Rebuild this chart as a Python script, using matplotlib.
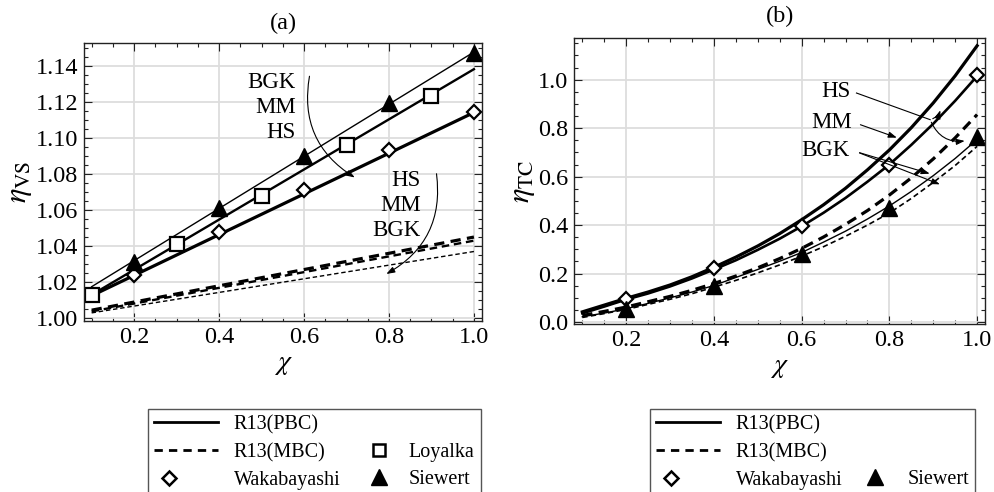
import matplotlib
matplotlib.use('Agg')
import matplotlib.pyplot as plt
from matplotlib.lines import Line2D
from matplotlib.ticker import MultipleLocator, FormatStrFormatter
from matplotlib.legend_handler import HandlerLine2D

plt.rcParams['font.family'] = ['Liberation Serif', 'DejaVu Serif']
plt.rcParams['mathtext.fontset'] = 'stix'

# ---- panel (a): viscous slip, straight lines (end points)
chi_line = [0.1, 1.0]
vs_pbc_thin = [1.0175, 1.1475]
vs_pbc_mid = [1.0130, 1.1380]
vs_pbc_thick = [1.0125, 1.1140]
vs_mbc_thick = [1.0045, 1.0450]
vs_mbc_mid = [1.0038, 1.0430]
vs_mbc_thin = [1.0030, 1.0370]

chi_loyalka = [0.1, 0.3, 0.5, 0.7, 0.9]
vs_loyalka = [1.013, 1.041, 1.068, 1.096, 1.123]
chi_ref = [0.2, 0.4, 0.6, 0.8, 1.0]
vs_waka = [1.024, 1.048, 1.071, 1.093, 1.114]
vs_siewert = [1.031, 1.061, 1.090, 1.119, 1.147]

# ---- panel (b): thermal creep
chi_curve = [0.10, 0.15, 0.20, 0.25, 0.30, 0.35, 0.40, 0.45, 0.50, 0.55,
             0.60, 0.65, 0.70, 0.75, 0.80, 0.85, 0.90, 0.95, 1.00]
tc_pbc_top = [0.042, 0.070, 0.098, 0.124, 0.153, 0.187, 0.226, 0.268, 0.314, 0.365,
              0.422, 0.484, 0.552, 0.628, 0.710, 0.802, 0.904, 1.016, 1.140]
tc_pbc_mid = [0.036, 0.064, 0.093, 0.118, 0.147, 0.180, 0.217, 0.255, 0.298, 0.344,
              0.395, 0.451, 0.512, 0.579, 0.650, 0.731, 0.818, 0.913, 1.015]
tc_pbc_thin = [0.022, 0.037, 0.055, 0.077, 0.100, 0.124, 0.151, 0.184, 0.217, 0.251,
               0.287, 0.330, 0.375, 0.425, 0.479, 0.539, 0.604, 0.675, 0.753]
tc_mbc_thick = [0.027, 0.044, 0.062, 0.084, 0.106, 0.131, 0.159, 0.190, 0.224, 0.262,
                0.304, 0.351, 0.403, 0.460, 0.524, 0.595, 0.673, 0.760, 0.856]
tc_mbc_thin = [0.019, 0.035, 0.052, 0.073, 0.094, 0.117, 0.144, 0.172, 0.203, 0.236,
               0.272, 0.311, 0.354, 0.400, 0.450, 0.510, 0.576, 0.646, 0.725]
tc_waka = [0.095, 0.222, 0.395, 0.650, 1.018]
tc_siewert = [0.054, 0.148, 0.280, 0.469, 0.765]

DASH = (0, (3.2, 2.0))
FS = 17.5
FS_TXT = 16.5

fig = plt.figure(figsize=(9.95, 4.92), dpi=100)
axa = fig.add_axes([84/995, 1-321/492, 398/995, 278/492])
axb = fig.add_axes([574/995, 1-324/492, 411/995, 286/492])


def style_axes(ax, xminor, ymaj, yminor):
    ax.xaxis.set_major_locator(MultipleLocator(0.2))
    ax.xaxis.set_minor_locator(MultipleLocator(xminor))
    ax.yaxis.set_major_locator(MultipleLocator(ymaj))
    ax.yaxis.set_minor_locator(MultipleLocator(yminor))
    ax.tick_params(which='both', direction='in', top=True, right=True,
                   labelsize=FS, width=0.8, color='#222222')
    ax.tick_params(which='major', length=6, pad=4)
    ax.tick_params(which='minor', length=3)
    ax.grid(True, which='major', color='#dddddd', lw=1.3)
    ax.set_axisbelow(True)
    for s in ax.spines.values():
        s.set_linewidth(1.0)
        s.set_color('#222222')


# panel (a)
axa.plot(chi_line, vs_pbc_thin, color='k', lw=1.0)
axa.plot(chi_line, vs_pbc_mid, color='k', lw=1.7)
axa.plot(chi_line, vs_pbc_thick, color='k', lw=2.3)
axa.plot(chi_line, vs_mbc_thick, color='k', lw=2.3, linestyle=DASH)
axa.plot(chi_line, vs_mbc_mid, color='k', lw=1.7, linestyle=DASH)
axa.plot(chi_line, vs_mbc_thin, color='k', lw=1.0, linestyle=DASH)
axa.plot(chi_loyalka, vs_loyalka, ls='none', marker='s', ms=10, mfc='white', mec='k', mew=1.6)
axa.plot(chi_ref, vs_waka, ls='none', marker='D', ms=7.5, mfc='white', mec='k', mew=1.6)
axa.plot(chi_ref, vs_siewert, ls='none', marker='^', ms=12, color='k')
axa.set_xlim(0.082, 1.019)
axa.set_ylim(0.9985, 1.1525)
style_axes(axa, 0.05, 0.02, 0.005)
axa.set_xticks([0.2, 0.4, 0.6, 0.8, 1.0])
axa.set_yticks([1.00, 1.02, 1.04, 1.06, 1.08, 1.10, 1.12, 1.14])
axa.yaxis.set_major_formatter(FormatStrFormatter('%.2f'))
axa.set_xlabel(r'$\chi$', fontsize=20, labelpad=3)
axa.set_ylabel(r'$\eta_{\mathrm{VS}}$', fontsize=22, labelpad=1)

axa.text(0.581, 1.1167, 'BGK\nMM\nHS', ha='right', va='center',
         multialignment='right', fontsize=FS_TXT, linespacing=1.25)
axa.annotate('', xy=(0.725, 1.0772), xytext=(0.614, 1.1356),
             arrowprops=dict(arrowstyle='-|>,head_length=0.5,head_width=0.18',
                             color='k', lw=0.8, connectionstyle='arc3,rad=0.35'))
axa.text(0.875, 1.0627, 'HS\nMM\nBGK', ha='right', va='center',
         multialignment='right', fontsize=FS_TXT, linespacing=1.25)
axa.annotate('', xy=(0.788, 1.0238), xytext=(0.911, 1.0816),
             arrowprops=dict(arrowstyle='-|>,head_length=0.5,head_width=0.18',
                             color='k', lw=0.8, connectionstyle='arc3,rad=-0.35'))

# panel (b)
axb.plot(chi_curve, tc_pbc_top, color='k', lw=2.3)
axb.plot(chi_curve, tc_pbc_mid, color='k', lw=1.9)
axb.plot(chi_curve, tc_pbc_thin, color='k', lw=1.0)
axb.plot(chi_curve, tc_mbc_thick, color='k', lw=2.3, linestyle=DASH)
axb.plot(chi_curve, tc_mbc_thin, color='k', lw=1.2, linestyle=DASH)
axb.plot(chi_ref, tc_waka, ls='none', marker='D', ms=7, mfc='white', mec='k', mew=1.6)
axb.plot(chi_ref, tc_siewert, ls='none', marker='^', ms=12, color='k')
axb.set_xlim(0.081, 1.018)
axb.set_ylim(-0.008, 1.172)
style_axes(axb, 0.05, 0.2, 0.05)
axb.set_xticks([0.2, 0.4, 0.6, 0.8, 1.0])
axb.set_yticks([0.0, 0.2, 0.4, 0.6, 0.8, 1.0])
axb.yaxis.set_major_formatter(FormatStrFormatter('%.1f'))
axb.set_xlabel(r'$\chi$', fontsize=20, labelpad=3)
axb.set_ylabel(r'$\eta_{\mathrm{TC}}$', fontsize=22, labelpad=1)

arr = dict(arrowstyle='-|>,head_length=0.5,head_width=0.18', color='k', lw=0.8)
axb.text(0.712, 0.951, 'HS', ha='right', va='center', fontsize=FS_TXT)
axb.text(0.715, 0.823, 'MM', ha='right', va='center', fontsize=FS_TXT)
axb.text(0.710, 0.708, 'BGK', ha='right', va='center', fontsize=FS_TXT)
axb.plot([0.725, 0.893], [0.945, 0.835], color='k', lw=0.8)
axb.annotate('', xy=(0.918, 0.885), xytext=(0.893, 0.835),
             arrowprops=dict(arr, connectionstyle='arc3,rad=0.3'))
axb.annotate('', xy=(0.978, 0.749), xytext=(0.893, 0.835),
             arrowprops=dict(arr, connectionstyle='arc3,rad=0.4'))
axb.annotate('', xy=(0.823, 0.757), xytext=(0.728, 0.818), arrowprops=arr)
axb.annotate('', xy=(0.898, 0.609), xytext=(0.726, 0.702), arrowprops=arr)
axb.annotate('', xy=(0.921, 0.564), xytext=(0.726, 0.702), arrowprops=arr)

# titles
fig.text(283/995, 1-23/492, '(a)', ha='center', va='center', fontsize=17.5)
fig.text(780/995, 1-16/492, '(b)', ha='center', va='center', fontsize=17.5)


# legends: marker-only entries sit at a chosen spot inside the handle box
class HandlerMarkerAt(HandlerLine2D):
    def __init__(self, frac, **kw):
        super().__init__(**kw)
        self.frac = frac

    def get_xdata(self, legend, xdescent, ydescent, width, height, fontsize):
        x = -xdescent + self.frac * width
        return [x], [x]


blank = Line2D([], [], ls='none')
h_pbc = Line2D([], [], color='k', lw=2.0)
h_mbc = Line2D([], [], color='k', lw=2.0, linestyle=(0, (3, 2.2)))
h_waka = Line2D([], [], ls='none', marker='D', ms=7, mfc='white', mec='k', mew=1.8)
h_loy = Line2D([], [], ls='none', marker='s', ms=8, mfc='white', mec='k', mew=1.8)
h_sie = Line2D([], [], ls='none', marker='^', ms=11, color='k')
h_sie_b = Line2D([], [], ls='none', marker='^', ms=11, color='k')

leg_kw = dict(loc='upper left', ncol=2, fontsize=14.5, frameon=True, fancybox=False,
              edgecolor='#555555', framealpha=1, borderaxespad=0, handlelength=3.2,
              handletextpad=0.75, labelspacing=0.42, borderpad=0.3)
lega = fig.legend([h_pbc, h_mbc, h_waka, blank, h_loy, h_sie],
                  ['R13(PBC)', 'R13(MBC)', 'Wakabayashi', '', 'Loyalka', 'Siewert'],
                  bbox_to_anchor=(148/995, 1-409/492), columnspacing=-0.55,
                  handler_map={h_waka: HandlerMarkerAt(0.23), h_loy: HandlerMarkerAt(0.77),
                               h_sie: HandlerMarkerAt(0.77)}, **leg_kw)
legb = fig.legend([h_pbc, h_mbc, h_waka, blank, blank, h_sie_b],
                  ['R13(PBC)', 'R13(MBC)', 'Wakabayashi', '', '', 'Siewert'],
                  bbox_to_anchor=(650/995, 1-409/492), columnspacing=-0.7,
                  handler_map={h_waka: HandlerMarkerAt(0.23), h_sie_b: HandlerMarkerAt(0.72)},
                  **leg_kw)
for lg in (lega, legb):
    lg.get_frame().set_linewidth(1.0)

fig.savefig('out.png', dpi=100)
